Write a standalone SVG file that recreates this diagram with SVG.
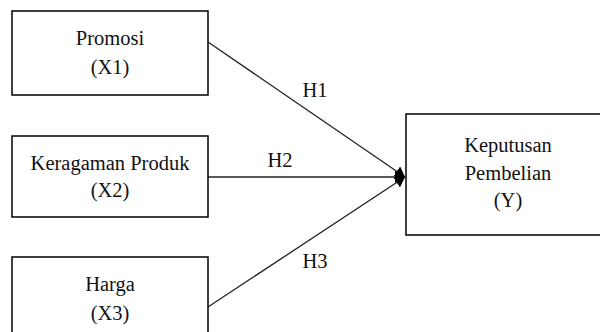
<svg xmlns="http://www.w3.org/2000/svg" width="600" height="332" viewBox="0 0 600 332">
<style>
.box{fill:#fff;stroke:#000;stroke-width:1.5}
.t{font-family:"Liberation Serif","Times New Roman",serif;font-size:20.5px;fill:#111;text-anchor:middle}
.c{stroke:#222;stroke-width:1.3;fill:none;marker-end:url(#ah)}
</style>
<defs>
<marker id="ah" viewBox="0 0 10 10" refX="10" refY="5" markerWidth="10" markerHeight="12" markerUnits="userSpaceOnUse" orient="auto" preserveAspectRatio="none">
<path d="M0,0 L10,5 L0,10 z" fill="#000"/>
</marker>
</defs>
<rect width="600" height="332" fill="#fff"/>
<g id="connectors">
<line class="c" x1="208" y1="42" x2="405" y2="177"/>
<line class="c" x1="208" y1="177" x2="405" y2="177"/>
<line class="c" x1="208" y1="307" x2="405" y2="177"/>
<text class="t" x="315" y="97">H1</text>
<text class="t" x="280" y="167">H2</text>
<text class="t" x="315" y="268">H3</text>
</g>
<g id="x1">
<rect class="box" x="12" y="11" width="196" height="84"/>
<text class="t" x="110" y="45">Promosi</text>
<text class="t" x="110" y="74">(X1)</text>
</g>
<g id="x2">
<rect class="box" x="12" y="136" width="196" height="81"/>
<text class="t" x="110" y="170">Keragaman Produk</text>
<text class="t" x="110" y="197">(X2)</text>
</g>
<g id="x3">
<rect class="box" x="12" y="257" width="196" height="90"/>
<text class="t" x="110" y="291">Harga</text>
<text class="t" x="110" y="320">(X3)</text>
</g>
<g id="y">
<rect class="box" x="406" y="114" width="210" height="121"/>
<text class="t" x="508" y="152">Keputusan</text>
<text class="t" x="508" y="180">Pembelian</text>
<text class="t" x="508" y="207">(Y)</text>
</g>
</svg>
